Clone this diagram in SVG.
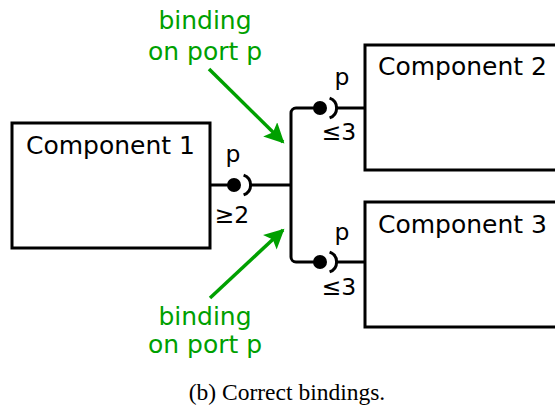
<svg xmlns="http://www.w3.org/2000/svg" width="555" height="410" viewBox="0 0 555 410">
<style>
.box{fill:#fff;stroke:#000;stroke-width:3}
.wire{fill:none;stroke:#000;stroke-width:3}
.ball{fill:#000}
.sock{fill:none;stroke:#000;stroke-width:3}
.lbl{font-family:"DejaVu Sans",sans-serif;font-size:25px;fill:#000}
.plbl{font-family:"DejaVu Sans",sans-serif;font-size:23.5px;fill:#000;text-anchor:middle}
.note{font-family:"DejaVu Sans",sans-serif;font-size:25px;fill:#00a000;text-anchor:middle}
.arrow{fill:none;stroke:#00a000;stroke-width:3.5}
.cap{font-family:"Liberation Serif",serif;font-size:23.5px;fill:#000;text-anchor:middle}
</style>
<defs>
<marker id="ah" viewBox="0 0 10 10" refX="9" refY="5" markerUnits="userSpaceOnUse" markerWidth="22" markerHeight="20" orient="auto">
<path d="M0,0 L10,5 L0,10 L2,5 Z" fill="#00a000"/>
</marker>
</defs>
<g id="component1">
<rect class="box" x="12" y="123" width="198" height="125"/>
<text class="lbl" x="26" y="154">Component 1</text>
</g>
<g id="component2">
<rect class="box" x="365" y="45" width="200" height="125"/>
<text class="lbl" x="378" y="75">Component 2</text>
</g>
<g id="component3">
<rect class="box" x="365" y="202" width="200" height="125"/>
<text class="lbl" x="378" y="233">Component 3</text>
</g>
<g id="connectors">
<path class="wire" d="M210,185 H234"/>
<circle class="ball" cx="234" cy="185" r="7"/>
<path class="sock" d="M243.6,175.1 A10.5,10.5 0 0 1 243.6,194.9"/>
<path class="wire" d="M250,185 H291"/>
<path class="wire" d="M320,108 H296 A5,5 0 0 0 291,113 V257 A5,5 0 0 0 296,262 H320"/>
<circle class="ball" cx="320" cy="108" r="7"/>
<path class="sock" d="M329.6,98.1 A10.5,10.5 0 0 1 329.6,117.9"/>
<path class="wire" d="M336,108 H365"/>
<circle class="ball" cx="320" cy="262" r="7"/>
<path class="sock" d="M329.6,252.1 A10.5,10.5 0 0 1 329.6,271.9"/>
<path class="wire" d="M336,262 H365"/>
<path class="arrow" d="M209,69 L283,142" marker-end="url(#ah)"/>
<path class="arrow" d="M210,298 L283,230" marker-end="url(#ah)"/>
</g>
<g id="labels">
<text class="plbl" x="233" y="162">p</text>
<text class="plbl" x="232" y="223">≥2</text>
<text class="plbl" x="342" y="85">p</text>
<text class="plbl" x="339" y="140">≤3</text>
<text class="plbl" x="342" y="240">p</text>
<text class="plbl" x="339" y="295">≤3</text>
<text class="note" x="205" y="29">binding</text>
<text class="note" x="205" y="60">on port p</text>
<text class="note" x="205" y="325">binding</text>
<text class="note" x="205" y="353">on port p</text>
<text class="cap" x="287" y="400">(b) Correct bindings.</text>
</g>
</svg>
